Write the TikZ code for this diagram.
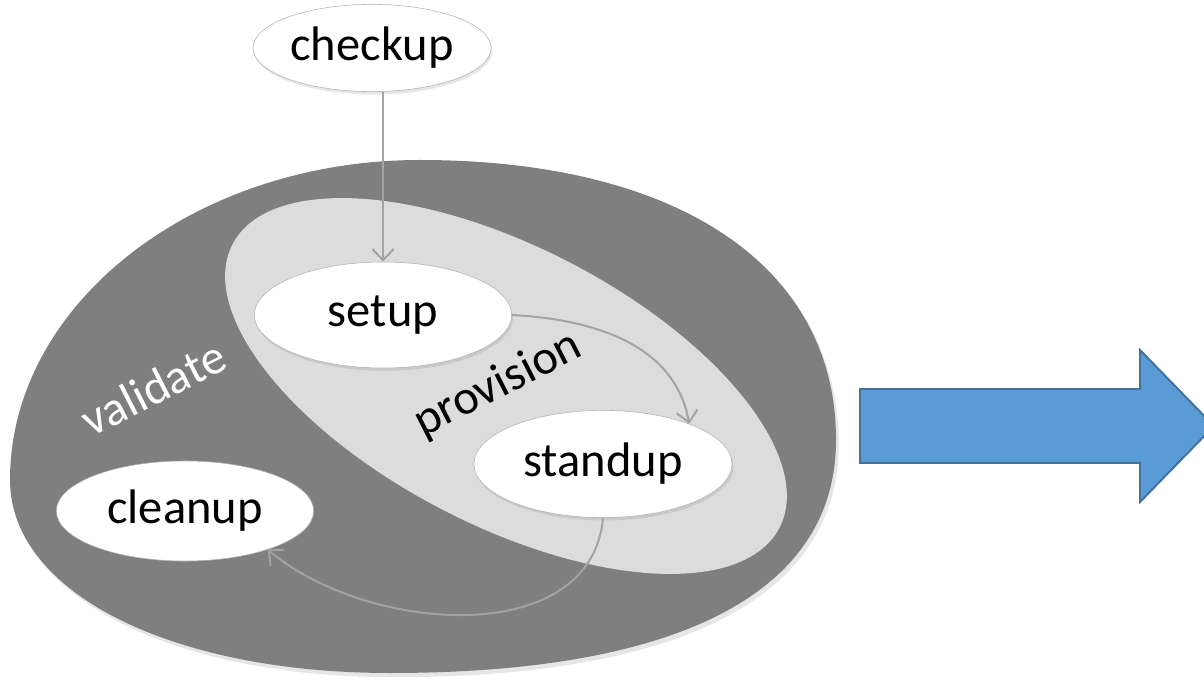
\documentclass[tikz,border=0pt]{standalone}
\usepackage{fontspec}
\setmainfont{Carlito}
\usetikzlibrary{shapes.geometric,arrows.meta,shadows}

\definecolor{validategray}{HTML}{7F7F7F}
\definecolor{provisiongray}{HTML}{DCDCDC}
\definecolor{flowgray}{HTML}{A3A3A3}
\definecolor{arrowblue}{HTML}{5B9BD5}
\definecolor{arrowrim}{HTML}{41719C}

\tikzstyle{stage}=[ellipse,fill=white,draw=black!30,thin,inner sep=0pt,minimum width=6.43cm,minimum height=2.65cm,font=\fontsize{34.5}{40}\selectfont,drop shadow={opacity=0.2,shadow xshift=1pt,shadow yshift=-2pt}]
\tikzstyle{phase label}=[font=\fontsize{34.5}{40}\selectfont,rotate=27]
\tikzstyle{flow edge}=[draw,line width=1.4pt,flowgray,-{Straight Barb[length=8pt,width=15pt]}]

\begin{document}
\begin{tikzpicture}[x=0.025cm,y=0.025cm]
	\clip (0,0) rectangle (1204,679);
	% The two phases as filled regions
	\fill[validategray,drop shadow={opacity=0.2,shadow xshift=2pt,shadow yshift=-3pt}] (420,519) .. controls (678,519) and (836,413) .. (836,239) .. controls (836,87) and (680,6) .. (390,6) .. controls (170,6) and (10,87) .. (10,199) .. controls (10,375) and (194,519) .. (420,519) -- cycle;
	\fill[provisiongray] (506,293) ellipse [x radius=308,y radius=139,rotate=-27.4];
	\node[phase label,white] (validate) at (153,291) {validate};
	\node[phase label] (provision) at (498,294) {provision};
	% The stages
	\node[stage,minimum width=5.95cm,minimum height=2.18cm] (checkup) at (372,631) {checkup};
	\node[stage] (setup) at (383,364) {setup};
	\node[stage,minimum width=6.45cm,minimum height=2.68cm] (standup) at (603,215) {standup};
	\node[stage,minimum height=2.5cm] (cleanup) at (185,168) {cleanup};
	% Connect stages
	\path[flow edge] (checkup.south -| setup.north) -- (setup.north);
	\path[flow edge] (setup.east) to[out=-3,in=100] (standup.25);
	\path[flow edge] (standup.south) to[out=-95,in=-40] (cleanup.-25);
	% Big arrow to the right
	\filldraw[fill=arrowblue,draw=arrowrim,line width=1.4pt] (860,290) -- (1140,290) -- (1140,329) -- (1214,253) -- (1140,177) -- (1140,216) -- (860,216) -- cycle;
\end{tikzpicture}
\end{document}
